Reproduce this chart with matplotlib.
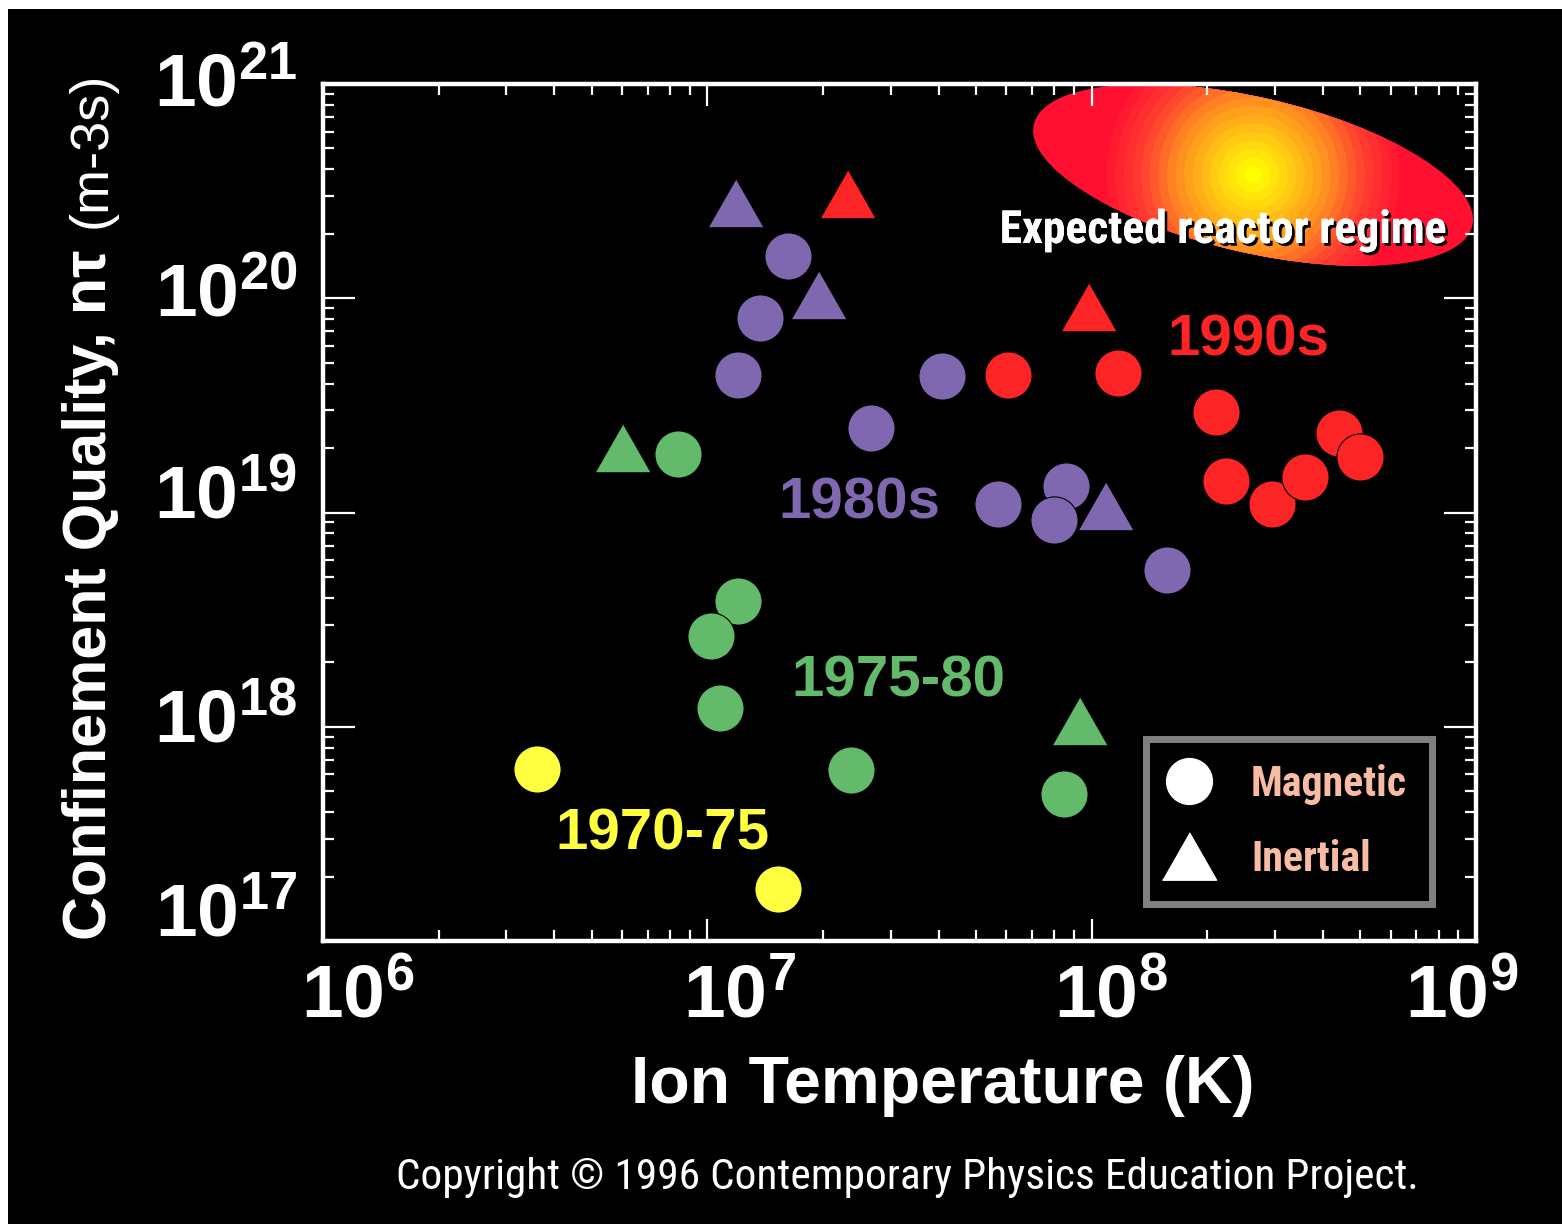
import os

import matplotlib
matplotlib.use("Agg")
import matplotlib.pyplot as plt
import matplotlib.patheffects as pe
from matplotlib import font_manager as fm
from matplotlib.colors import LinearSegmentedColormap
from matplotlib.lines import Line2D
from matplotlib.patches import Ellipse, Circle, Rectangle
from matplotlib.transforms import ScaledTranslation

# ion temperature (K) / confinement quality n*tau (m^-3 s)
mag_7075_T = [3.6e6, 1.53e7]
mag_7075_nt = [6.35e17, 1.74e17]

mag_7580_T = [8.4e6, 1.2e7, 1.02e7, 1.08e7, 2.37e7, 8.45e7]
mag_7580_nt = [1.87e19, 3.88e18, 2.64e18, 1.22e18, 6.25e17, 4.88e17]
inr_7580_T = [6.04e6, 9.33e7]
inr_7580_nt = [2.01e19, 1.06e18]

mag_80s_T = [1.62e7, 1.37e7, 1.2e7, 2.66e7, 4.07e7, 5.71e7, 8.6e7, 7.96e7, 1.57e8]
mag_80s_nt = [1.58e20, 8.13e19, 4.36e19, 2.47e19, 4.34e19, 1.10e19, 1.33e19, 9.27e18, 5.39e18]
inr_80s_T = [1.19e7, 1.95e7, 1.09e8]
inr_80s_nt = [2.77e20, 1.04e20, 1.07e19]

mag_90s_T = [6.04e7, 1.17e8, 2.11e8, 2.24e8, 2.95e8, 3.58e8, 4.4e8, 4.99e8]
mag_90s_nt = [4.36e19, 4.5e19, 2.96e19, 1.41e19, 1.10e19, 1.47e19, 2.35e19, 1.81e19]
inr_90s_T = [2.32e7, 9.87e7]
inr_90s_nt = [3.08e20, 9.06e19]

# centre of the "expected reactor regime" blob
regime_T, regime_nt = 2.63e8, 3.76e20

era_names = ["1970-75", "1975-80", "1980s", "1990s"]
era_label_T = [7.65e6, 3.15e7, 2.49e7, 2.55e8]
era_label_nt = [2.66e17, 1.38e18, 9.42e18, 5.43e19]

x_exps = [6, 7, 8, 9]
y_exps = [17, 18, 19, 20, 21]

YELLOW = "#ffff40"
GREEN = "#62ba6a"
PURPLE = "#7f68b0"
RED = "#fc2424"
era_colors = [YELLOW, GREEN, PURPLE, RED]

FONT = "Liberation Sans"
TRI = [(-1, -0.875), (1, -0.875), (0, 0.875)]


def narrow_font(bold):
    # the original uses a condensed face; take whichever condensed sans is installed
    prefs = ["liberationsansnarrow", "robotocondensed", "notosans-condensed",
             "dejavusanscondensed", "opensans_condensed", "opensans-condensed"]
    skip = ("italic", "oblique", "semi", "extra", "light", "medium", "black", "thin")
    files = sorted({f.fname for f in fm.fontManager.ttflist})
    for p in prefs:
        for fn in files:
            b = os.path.basename(fn).lower()
            if not b.startswith(p):
                continue
            rest = b[len(p):]
            if ("bold" in rest) == bold and not any(k in rest for k in skip):
                return fm.FontProperties(fname=fn)
    return fm.FontProperties(family=FONT, weight="bold" if bold else "normal")


W, H = 1562, 1224
fig = plt.figure(figsize=(W / 100, H / 100), dpi=100, facecolor="white")
renderer = fig.canvas.get_renderer()


def fit(fp, text, width_px, base=30.0):
    # font size that makes `text` span width_px pixels
    fp = fp.copy()
    fp.set_size(base)
    t = fig.text(0, 0, text, fontproperties=fp)
    w = t.get_window_extent(renderer).width
    t.remove()
    fp.set_size(base * width_px / w)
    return fp


fig.patches.append(Rectangle((8 / W, 0), 1, 1 - 9 / H, transform=fig.transFigure,
                             facecolor="black", edgecolor="none", zorder=-10))

ax = fig.add_axes([323 / W, 1 - 941 / H, (1476 - 323) / W, (941 - 84) / H])
ax.set_facecolor("black")
ax.set_xscale("log")
ax.set_yscale("log")
for s in ax.spines.values():
    s.set_color("white")
    s.set_linewidth(3.2)
ax.tick_params(which="both", direction="in", top=True, right=True, colors="white",
               labelbottom=False, labelleft=False, width=1.6)
ax.tick_params(axis="x", which="major", length=16)
ax.tick_params(axis="y", which="major", length=23)
ax.tick_params(which="minor", length=8)

# reactor regime: radial yellow->red bands clipped to a tilted ellipse
tr = fig.dpi_scale_trans + ScaledTranslation(regime_T, regime_nt, ax.transData)
ell = Ellipse((0, 0), 4.5, 1.55, angle=-13, transform=tr,
              facecolor="#ff1030", edgecolor="none", zorder=0.5)
ax.add_patch(ell)
cmap = LinearSegmentedColormap.from_list(
    "regime", ["#ff1030", "#ff3a30", "#ff8a22", "#ffc814", "#ffff00"])
n = 18
for i in range(n):
    c = Circle((0, 0), 1.55 * (1 - i / n), transform=tr, facecolor=cmap(i / (n - 1)),
               edgecolor="none", zorder=0.6)
    ax.add_patch(c)
    c.set_clip_path(ell)

ax.text(0.7806, 0.8145, "Expected reactor regime", transform=ax.transAxes,
        ha="center", va="baseline", color="white", zorder=3,
        fontproperties=fit(narrow_font(True), "Expected reactor regime", 447),
        path_effects=[pe.withSimplePatchShadow(offset=(2, -2), shadow_rgbFace="black", alpha=1),
                      pe.Normal()])

mk = dict(edgecolor="black", linewidths=0.8, zorder=2)
s_circ, s_tri = 34 ** 2, 40 ** 2
ax.scatter(mag_7075_T, mag_7075_nt, s=s_circ, c=YELLOW, marker="o", **mk)
ax.scatter(mag_7580_T, mag_7580_nt, s=s_circ, c=GREEN, marker="o", **mk)
ax.scatter(inr_7580_T, inr_7580_nt, s=s_tri, c=GREEN, marker=TRI, **mk)
ax.scatter(mag_80s_T, mag_80s_nt, s=s_circ, c=PURPLE, marker="o", **mk)
ax.scatter(inr_80s_T, inr_80s_nt, s=s_tri, c=PURPLE, marker=TRI, **mk)
ax.scatter(mag_90s_T, mag_90s_nt, s=s_circ, c=RED, marker="o", **mk)
ax.scatter(inr_90s_T, inr_90s_nt, s=s_tri, c=RED, marker=TRI, **mk)

for name, x, y, col in zip(era_names, era_label_T, era_label_nt, era_colors):
    ax.text(x, y, name, ha="center", va="baseline", color=col, fontsize=42,
            fontweight="bold", family=FONT, zorder=3)

ax.set_xlim(1e6, 1e9)
ax.set_ylim(1e17, 1e21)

# decade labels drawn by hand so they can sit where the original has them
x_lab_dx = [35, 32, 19, -14]
for e, dx in zip(x_exps, x_lab_dx):
    ax.annotate(rf"$\mathregular{{10^{{{e}}}}}$", xy=(10.0 ** e, 0),
                xycoords=("data", "axes fraction"), xytext=(dx, -56),
                textcoords="offset pixels", ha="center", va="center", color="white",
                fontsize=54, fontweight="bold", family=FONT, annotation_clip=False)
y_lab_dy = [25, 4, 14, 2, -2]
for e, dy in zip(y_exps, y_lab_dy):
    ax.annotate(rf"$\mathregular{{10^{{{e}}}}}$", xy=(0, 10.0 ** e),
                xycoords=("axes fraction", "data"), xytext=(-26, dy),
                textcoords="offset pixels", ha="right", va="center", color="white",
                fontsize=54, fontweight="bold", family=FONT, annotation_clip=False)

bold = fm.FontProperties(family=FONT, weight="bold")
fig.text(106 / W, 1 - 940 / H, "Confinement Quality, nτ", rotation=90,
         rotation_mode="anchor", ha="left", va="baseline", color="white",
         fontproperties=fit(bold, "Confinement Quality, nτ", 690))
fig.text(106 / W, 1 - 72 / H, "(m-3s)", rotation=90, rotation_mode="anchor",
         ha="right", va="baseline", fontsize=39, color="white", family=FONT)
fig.text(943 / W, 1 - 1103 / H, "Ion Temperature (K)", ha="center", va="baseline",
         color="white", fontproperties=fit(bold, "Ion Temperature (K)", 623))
copy_txt = "Copyright © 1996 Contemporary Physics Education Project."
fig.text(907 / W, 1 - 1189 / H, copy_txt, ha="center", va="baseline", color="white",
         fontproperties=fit(narrow_font(False), copy_txt, 1021))

# legend, spaced in font units so the box keeps its size whatever the face
leg_fp = fit(narrow_font(True), "Magnetic", 156)
u = leg_fp.get_size_in_points() * 100 / 72
bp = (93 - 1.17 * u) / (2 * u) + 3 / u
hl = 2 * (42.5 - bp * u) / u
htp = (104.5 - bp * u - hl * u) / u
handles = [Line2D([], [], ls="none", marker="o", ms=33, mfc="white", mec="white"),
           Line2D([], [], ls="none", marker=TRI, ms=39, mfc="white", mec="white")]
leg = ax.legend(handles, ["Magnetic", "Inertial"], loc="lower left",
                bbox_to_anchor=(0.7142, 0.0426), borderaxespad=0, fancybox=False,
                facecolor="black", edgecolor="#808080", framealpha=1,
                labelcolor="#f9bca2", prop=leg_fp,
                handlelength=hl, handletextpad=htp, borderpad=bp,
                labelspacing=(75 + 8) / u - 1.17, numpoints=1)
leg.get_frame().set_linewidth(5)
leg.set_zorder(4)

fig.savefig("out.png", dpi=100, facecolor=fig.get_facecolor())
